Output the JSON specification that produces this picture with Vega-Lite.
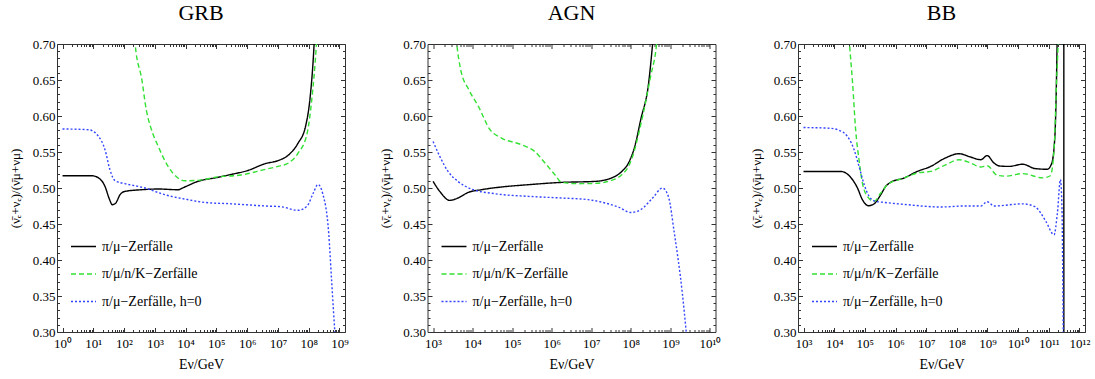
{
  "$schema": "https://vega.github.io/schema/vega-lite/v6.json",
  "background": "white",
  "padding": {"left": 8, "top": 1, "right": 4, "bottom": 0},
  "spacing": 82.5,
  "bounds": "flush",
  "config": {
    "font": "Liberation Serif",
    "view": {"stroke": "#333333", "strokeWidth": 1},
    "title": {"font": "Liberation Serif", "fontSize": 22, "fontWeight": "normal", "color": "black", "anchor": "middle", "offset": 13},
    "axis": {"domain": false, "grid": false, "tickColor": "#333333", "labelFont": "Liberation Serif", "labelFontSize": 13, "labelColor": "black", "titleFont": "Liberation Serif", "titleFontSize": 14, "titleFontWeight": "normal", "titleColor": "black", "labelOverlap": false, "labelFlush": false, "labelBound": false},
    "legend": {"symbolType": "stroke", "symbolSize": 625, "symbolStrokeWidth": 1.4, "labelFont": "Liberation Serif", "labelFontSize": 14, "labelColor": "black", "rowPadding": 6.5, "padding": 0, "labelOffset": 5, "labelLimit": 300}
  },
  "datasets": {
    "grb": [
      {"s": "π/μ−Zerfälle", "E": 1, "r": 0.517},
      {"s": "π/μ−Zerfälle", "E": 8.91, "r": 0.517},
      {"s": "π/μ−Zerfälle", "E": 14.8, "r": 0.514},
      {"s": "π/μ−Zerfälle", "E": 24, "r": 0.5022},
      {"s": "π/μ−Zerfälle", "E": 32.4, "r": 0.486},
      {"s": "π/μ−Zerfälle", "E": 41.7, "r": 0.4768},
      {"s": "π/μ−Zerfälle", "E": 53.7, "r": 0.4792},
      {"s": "π/μ−Zerfälle", "E": 74.1, "r": 0.4907},
      {"s": "π/μ−Zerfälle", "E": 107, "r": 0.4953},
      {"s": "π/μ−Zerfälle", "E": 372, "r": 0.4976},
      {"s": "π/μ−Zerfälle", "E": 1288, "r": 0.4986},
      {"s": "π/μ−Zerfälle", "E": 5623, "r": 0.4976},
      {"s": "π/μ−Zerfälle", "E": 9333, "r": 0.5014},
      {"s": "π/μ−Zerfälle", "E": 25120, "r": 0.5092},
      {"s": "π/μ−Zerfälle", "E": 112200, "r": 0.5148},
      {"s": "π/μ−Zerfälle", "E": 316200, "r": 0.519},
      {"s": "π/μ−Zerfälle", "E": 1000000, "r": 0.524},
      {"s": "π/μ−Zerfälle", "E": 3980000, "r": 0.534},
      {"s": "π/μ−Zerfälle", "E": 10000000, "r": 0.538},
      {"s": "π/μ−Zerfälle", "E": 22400000, "r": 0.546},
      {"s": "π/μ−Zerfälle", "E": 44700000, "r": 0.562},
      {"s": "π/μ−Zerfälle", "E": 79400000, "r": 0.586},
      {"s": "π/μ−Zerfälle", "E": 112000000, "r": 0.627},
      {"s": "π/μ−Zerfälle", "E": 141000000, "r": 0.68},
      {"s": "π/μ−Zerfälle", "E": 158500000, "r": 0.72},
      {"s": "π/μ/n/K−Zerfälle", "E": 200, "r": 0.74},
      {"s": "π/μ/n/K−Zerfälle", "E": 229, "r": 0.7},
      {"s": "π/μ/n/K−Zerfälle", "E": 380, "r": 0.65},
      {"s": "π/μ/n/K−Zerfälle", "E": 525, "r": 0.609},
      {"s": "π/μ/n/K−Zerfälle", "E": 776, "r": 0.581},
      {"s": "π/μ/n/K−Zerfälle", "E": 1288, "r": 0.5578},
      {"s": "π/μ/n/K−Zerfälle", "E": 2692, "r": 0.53},
      {"s": "π/μ/n/K−Zerfälle", "E": 5623, "r": 0.5139},
      {"s": "π/μ/n/K−Zerfälle", "E": 9333, "r": 0.51},
      {"s": "π/μ/n/K−Zerfälle", "E": 25120, "r": 0.5106},
      {"s": "π/μ/n/K−Zerfälle", "E": 112200, "r": 0.5155},
      {"s": "π/μ/n/K−Zerfälle", "E": 631000, "r": 0.518},
      {"s": "π/μ/n/K−Zerfälle", "E": 3980000, "r": 0.526},
      {"s": "π/μ/n/K−Zerfälle", "E": 10000000, "r": 0.53},
      {"s": "π/μ/n/K−Zerfälle", "E": 22400000, "r": 0.535},
      {"s": "π/μ/n/K−Zerfälle", "E": 44700000, "r": 0.548},
      {"s": "π/μ/n/K−Zerfälle", "E": 89100000, "r": 0.576},
      {"s": "π/μ/n/K−Zerfälle", "E": 126000000, "r": 0.623},
      {"s": "π/μ/n/K−Zerfälle", "E": 178000000, "r": 0.7},
      {"s": "π/μ/n/K−Zerfälle", "E": 200000000, "r": 0.74},
      {"s": "π/μ−Zerfälle, h=0", "E": 1, "r": 0.582},
      {"s": "π/μ−Zerfälle, h=0", "E": 6.92, "r": 0.581},
      {"s": "π/μ−Zerfälle, h=0", "E": 14.8, "r": 0.5717},
      {"s": "π/μ−Zerfälle, h=0", "E": 24, "r": 0.5532},
      {"s": "π/μ−Zerfälle, h=0", "E": 34.7, "r": 0.5254},
      {"s": "π/μ−Zerfälle, h=0", "E": 51.3, "r": 0.51},
      {"s": "π/μ−Zerfälle, h=0", "E": 107, "r": 0.506},
      {"s": "π/μ−Zerfälle, h=0", "E": 479, "r": 0.5},
      {"s": "π/μ−Zerfälle, h=0", "E": 2089, "r": 0.4907},
      {"s": "π/μ−Zerfälle, h=0", "E": 9333, "r": 0.4847},
      {"s": "π/μ−Zerfälle, h=0", "E": 41690, "r": 0.48},
      {"s": "π/μ−Zerfälle, h=0", "E": 316200, "r": 0.478},
      {"s": "π/μ−Zerfälle, h=0", "E": 3980000, "r": 0.475},
      {"s": "π/μ−Zerfälle, h=0", "E": 12600000, "r": 0.474},
      {"s": "π/μ−Zerfälle, h=0", "E": 44700000, "r": 0.469},
      {"s": "π/μ−Zerfälle, h=0", "E": 89100000, "r": 0.475},
      {"s": "π/μ−Zerfälle, h=0", "E": 141000000, "r": 0.493},
      {"s": "π/μ−Zerfälle, h=0", "E": 200000000, "r": 0.505},
      {"s": "π/μ−Zerfälle, h=0", "E": 282000000, "r": 0.493},
      {"s": "π/μ−Zerfälle, h=0", "E": 447000000, "r": 0.437},
      {"s": "π/μ−Zerfälle, h=0", "E": 562000000, "r": 0.368},
      {"s": "π/μ−Zerfälle, h=0", "E": 708000000, "r": 0.3},
      {"s": "π/μ−Zerfälle, h=0", "E": 794000000, "r": 0.27}
    ],
    "agn": [
      {"s": "π/μ−Zerfälle", "E": 1000, "r": 0.5092},
      {"s": "π/μ−Zerfälle", "E": 1479, "r": 0.4953},
      {"s": "π/μ−Zerfälle", "E": 2630, "r": 0.4828},
      {"s": "π/μ−Zerfälle", "E": 4266, "r": 0.4861},
      {"s": "π/μ−Zerfälle", "E": 7762, "r": 0.4939},
      {"s": "π/μ−Zerfälle", "E": 16600, "r": 0.4976},
      {"s": "π/μ−Zerfälle", "E": 53700, "r": 0.5014},
      {"s": "π/μ−Zerfälle", "E": 257000, "r": 0.5046},
      {"s": "π/μ−Zerfälle", "E": 1778000, "r": 0.5078},
      {"s": "π/μ−Zerfälle", "E": 12300000, "r": 0.5092},
      {"s": "π/μ−Zerfälle", "E": 32360000, "r": 0.5139},
      {"s": "π/μ−Zerfälle", "E": 58880000, "r": 0.523},
      {"s": "π/μ−Zerfälle", "E": 87100000, "r": 0.5347},
      {"s": "π/μ−Zerfälle", "E": 126000000, "r": 0.558},
      {"s": "π/μ−Zerfälle", "E": 178000000, "r": 0.595},
      {"s": "π/μ−Zerfälle", "E": 282000000, "r": 0.646},
      {"s": "π/μ−Zerfälle", "E": 355000000, "r": 0.7},
      {"s": "π/μ−Zerfälle", "E": 398000000, "r": 0.73},
      {"s": "π/μ/n/K−Zerfälle", "E": 3548, "r": 0.73},
      {"s": "π/μ/n/K−Zerfälle", "E": 3981, "r": 0.7},
      {"s": "π/μ/n/K−Zerfälle", "E": 5012, "r": 0.664},
      {"s": "π/μ/n/K−Zerfälle", "E": 7943, "r": 0.637},
      {"s": "π/μ/n/K−Zerfälle", "E": 14130, "r": 0.613},
      {"s": "π/μ/n/K−Zerfälle", "E": 27540, "r": 0.581},
      {"s": "π/μ/n/K−Zerfälle", "E": 53700, "r": 0.5694},
      {"s": "π/μ/n/K−Zerfälle", "E": 173800, "r": 0.56},
      {"s": "π/μ/n/K−Zerfälle", "E": 371500, "r": 0.5508},
      {"s": "π/μ/n/K−Zerfälle", "E": 676100, "r": 0.5347},
      {"s": "π/μ/n/K−Zerfälle", "E": 1202000, "r": 0.5185},
      {"s": "π/μ/n/K−Zerfälle", "E": 1778000, "r": 0.5078},
      {"s": "π/μ/n/K−Zerfälle", "E": 4677000, "r": 0.506},
      {"s": "π/μ/n/K−Zerfälle", "E": 12300000, "r": 0.5064},
      {"s": "π/μ/n/K−Zerfälle", "E": 26920000, "r": 0.5092},
      {"s": "π/μ/n/K−Zerfälle", "E": 58880000, "r": 0.5185},
      {"s": "π/μ/n/K−Zerfälle", "E": 87100000, "r": 0.53},
      {"s": "π/μ/n/K−Zerfälle", "E": 104700000, "r": 0.54},
      {"s": "π/μ/n/K−Zerfälle", "E": 178000000, "r": 0.588},
      {"s": "π/μ/n/K−Zerfälle", "E": 316000000, "r": 0.655},
      {"s": "π/μ/n/K−Zerfälle", "E": 447000000, "r": 0.7},
      {"s": "π/μ/n/K−Zerfälle", "E": 501000000, "r": 0.73},
      {"s": "π/μ−Zerfälle, h=0", "E": 1000, "r": 0.5647},
      {"s": "π/μ−Zerfälle, h=0", "E": 1479, "r": 0.5439},
      {"s": "π/μ−Zerfälle, h=0", "E": 2399, "r": 0.523},
      {"s": "π/μ−Zerfälle, h=0", "E": 4266, "r": 0.5092},
      {"s": "π/μ−Zerfälle, h=0", "E": 9333, "r": 0.4986},
      {"s": "π/μ−Zerfälle, h=0", "E": 36310, "r": 0.4921},
      {"s": "π/μ−Zerfälle, h=0", "E": 257000, "r": 0.4884},
      {"s": "π/μ−Zerfälle, h=0", "E": 1778000, "r": 0.4861},
      {"s": "π/μ−Zerfälle, h=0", "E": 8318000, "r": 0.4838},
      {"s": "π/μ−Zerfälle, h=0", "E": 22390000, "r": 0.4792},
      {"s": "π/μ−Zerfälle, h=0", "E": 47860000, "r": 0.4736},
      {"s": "π/μ−Zerfälle, h=0", "E": 100000000, "r": 0.466},
      {"s": "π/μ−Zerfälle, h=0", "E": 178000000, "r": 0.47},
      {"s": "π/μ−Zerfälle, h=0", "E": 355000000, "r": 0.486},
      {"s": "π/μ−Zerfälle, h=0", "E": 631000000, "r": 0.5},
      {"s": "π/μ−Zerfälle, h=0", "E": 891000000, "r": 0.488},
      {"s": "π/μ−Zerfälle, h=0", "E": 1260000000, "r": 0.437},
      {"s": "π/μ−Zerfälle, h=0", "E": 2000000000, "r": 0.354},
      {"s": "π/μ−Zerfälle, h=0", "E": 2510000000, "r": 0.3},
      {"s": "π/μ−Zerfälle, h=0", "E": 2820000000, "r": 0.27}
    ],
    "bb": [
      {"s": "π/μ−Zerfälle", "E": 1000, "r": 0.523},
      {"s": "π/μ−Zerfälle", "E": 16200, "r": 0.523},
      {"s": "π/μ−Zerfälle", "E": 39800, "r": 0.5115},
      {"s": "π/μ−Zerfälle", "E": 57500, "r": 0.5},
      {"s": "π/μ−Zerfälle", "E": 83200, "r": 0.4838},
      {"s": "π/μ−Zerfälle", "E": 131800, "r": 0.4754},
      {"s": "π/μ−Zerfälle", "E": 199500, "r": 0.478},
      {"s": "π/μ−Zerfälle", "E": 331100, "r": 0.4907},
      {"s": "π/μ−Zerfälle", "E": 478600, "r": 0.5022},
      {"s": "π/μ−Zerfälle", "E": 691800, "r": 0.5078},
      {"s": "π/μ−Zerfälle", "E": 1905000, "r": 0.5139},
      {"s": "π/μ−Zerfälle", "E": 5129000, "r": 0.523},
      {"s": "π/μ−Zerfälle", "E": 14130000, "r": 0.53},
      {"s": "π/μ−Zerfälle", "E": 38020000, "r": 0.5407},
      {"s": "π/μ−Zerfälle", "E": 117500000, "r": 0.5476},
      {"s": "π/μ−Zerfälle", "E": 281800000, "r": 0.543},
      {"s": "π/μ−Zerfälle", "E": 602600000, "r": 0.5393},
      {"s": "π/μ−Zerfälle", "E": 977200000, "r": 0.545},
      {"s": "π/μ−Zerfälle", "E": 1622000000, "r": 0.5347},
      {"s": "π/μ−Zerfälle", "E": 2500000000, "r": 0.5305},
      {"s": "π/μ−Zerfälle", "E": 5010000000, "r": 0.53},
      {"s": "π/μ−Zerfälle", "E": 14100000000, "r": 0.533},
      {"s": "π/μ−Zerfälle", "E": 35500000000, "r": 0.527},
      {"s": "π/μ−Zerfälle", "E": 89100000000, "r": 0.526},
      {"s": "π/μ−Zerfälle", "E": 126000000000, "r": 0.535},
      {"s": "π/μ−Zerfälle", "E": 158500000000, "r": 0.574},
      {"s": "π/μ−Zerfälle", "E": 186000000000, "r": 0.7},
      {"s": "π/μ−Zerfälle", "E": 200000000000, "r": 0.8},
      {"s": "π/μ−Zerfälle", "E": 308500000000, "r": 0.8},
      {"s": "π/μ−Zerfälle", "E": 309000000000, "r": 0.2},
      {"s": "π/μ/n/K−Zerfälle", "E": 28180, "r": 0.73},
      {"s": "π/μ/n/K−Zerfälle", "E": 31620, "r": 0.7},
      {"s": "π/μ/n/K−Zerfälle", "E": 39810, "r": 0.646},
      {"s": "π/μ/n/K−Zerfälle", "E": 50120, "r": 0.581},
      {"s": "π/μ/n/K−Zerfälle", "E": 64600, "r": 0.539},
      {"s": "π/μ/n/K−Zerfälle", "E": 83200, "r": 0.507},
      {"s": "π/μ/n/K−Zerfälle", "E": 120200, "r": 0.4884},
      {"s": "π/μ/n/K−Zerfälle", "E": 199500, "r": 0.4814},
      {"s": "π/μ/n/K−Zerfälle", "E": 331100, "r": 0.493},
      {"s": "π/μ/n/K−Zerfälle", "E": 549500, "r": 0.5045},
      {"s": "π/μ/n/K−Zerfälle", "E": 1905000, "r": 0.514},
      {"s": "π/μ/n/K−Zerfälle", "E": 5129000, "r": 0.5208},
      {"s": "π/μ/n/K−Zerfälle", "E": 14130000, "r": 0.523},
      {"s": "π/μ/n/K−Zerfälle", "E": 38020000, "r": 0.531},
      {"s": "π/μ/n/K−Zerfälle", "E": 117500000, "r": 0.5393},
      {"s": "π/μ/n/K−Zerfälle", "E": 281800000, "r": 0.5347},
      {"s": "π/μ/n/K−Zerfälle", "E": 602600000, "r": 0.5292},
      {"s": "π/μ/n/K−Zerfälle", "E": 977200000, "r": 0.531},
      {"s": "π/μ/n/K−Zerfälle", "E": 2089000000, "r": 0.5175},
      {"s": "π/μ/n/K−Zerfälle", "E": 4000000000, "r": 0.5165},
      {"s": "π/μ/n/K−Zerfälle", "E": 14100000000, "r": 0.52},
      {"s": "π/μ/n/K−Zerfälle", "E": 63100000000, "r": 0.514},
      {"s": "π/μ/n/K−Zerfälle", "E": 112000000000, "r": 0.517},
      {"s": "π/μ/n/K−Zerfälle", "E": 148000000000, "r": 0.553},
      {"s": "π/μ/n/K−Zerfälle", "E": 178000000000, "r": 0.646},
      {"s": "π/μ/n/K−Zerfälle", "E": 200000000000, "r": 0.7},
      {"s": "π/μ/n/K−Zerfälle", "E": 214000000000, "r": 0.75},
      {"s": "π/μ−Zerfälle, h=0", "E": 1000, "r": 0.584},
      {"s": "π/μ−Zerfälle, h=0", "E": 7079, "r": 0.583},
      {"s": "π/μ−Zerfälle, h=0", "E": 12900, "r": 0.581},
      {"s": "π/μ−Zerfälle, h=0", "E": 26900, "r": 0.5717},
      {"s": "π/μ−Zerfälle, h=0", "E": 44670, "r": 0.5532},
      {"s": "π/μ−Zerfälle, h=0", "E": 64600, "r": 0.53},
      {"s": "π/μ−Zerfälle, h=0", "E": 95500, "r": 0.5046},
      {"s": "π/μ−Zerfälle, h=0", "E": 138000, "r": 0.4884},
      {"s": "π/μ−Zerfälle, h=0", "E": 229000, "r": 0.4814},
      {"s": "π/μ−Zerfälle, h=0", "E": 426600, "r": 0.48},
      {"s": "π/μ−Zerfälle, h=0", "E": 2455000, "r": 0.4768},
      {"s": "π/μ−Zerfälle, h=0", "E": 29510000, "r": 0.4736},
      {"s": "π/μ−Zerfälle, h=0", "E": 169800000, "r": 0.475},
      {"s": "π/μ−Zerfälle, h=0", "E": 602600000, "r": 0.475},
      {"s": "π/μ−Zerfälle, h=0", "E": 977200000, "r": 0.481},
      {"s": "π/μ−Zerfälle, h=0", "E": 1622000000, "r": 0.475},
      {"s": "π/μ−Zerfälle, h=0", "E": 14100000000, "r": 0.478},
      {"s": "π/μ−Zerfälle, h=0", "E": 35500000000, "r": 0.474},
      {"s": "π/μ−Zerfälle, h=0", "E": 79400000000, "r": 0.454},
      {"s": "π/μ−Zerfälle, h=0", "E": 148000000000, "r": 0.435},
      {"s": "π/μ−Zerfälle, h=0", "E": 190000000000, "r": 0.465},
      {"s": "π/μ−Zerfälle, h=0", "E": 240000000000, "r": 0.512},
      {"s": "π/μ−Zerfälle, h=0", "E": 269000000000, "r": 0.47},
      {"s": "π/μ−Zerfälle, h=0", "E": 295000000000, "r": 0.3},
      {"s": "π/μ−Zerfälle, h=0", "E": 302000000000, "r": 0.25}
    ]
  },
  "resolve": {"legend": {"color": "independent", "strokeDash": "independent"}},
  "hconcat": [
    {
      "width": 288, "height": 288,
      "title": {"text": "GRB"},
      "layer": [
        {
          "mark": {"type": "rule", "color": "#ff0000", "strokeWidth": 1.2},
          "encoding": {
            "x": {"datum": 1, "type": "quantitative", "scale": {"type": "log", "domain": [0.661, 1513000000], "nice": false},
              "axis": {"orient": "bottom", "title": "Eν/GeV", "titlePadding": 5,
                "values": [1,2,3,4,5,6,7,8,9,10,20,30,40,50,60,70,80,90,100,200,300,400,500,600,700,800,900,1000,2000,3000,4000,5000,6000,7000,8000,9000,10000,20000,30000,40000,50000,60000,70000,80000,90000,100000,200000,300000,400000,500000,600000,700000,800000,900000,1000000,2000000,3000000,4000000,5000000,6000000,7000000,8000000,9000000,10000000,20000000,30000000,40000000,50000000,60000000,70000000,80000000,90000000,100000000,200000000,300000000,400000000,500000000,600000000,700000000,800000000,900000000,1000000000],
                "labelExpr": "abs(log(datum.value)/LN10 - round(log(datum.value)/LN10)) < 0.001 ? '10' + ['⁰','¹','²','³','⁴','⁵','⁶','⁷','⁸','⁹','¹⁰','¹¹','¹²'][round(log(datum.value)/LN10)] : ''",
                "tickSize": {"condition": {"test": "abs(log(datum.value)/LN10 - round(log(datum.value)/LN10)) < 0.001", "value": -4.5}, "value": -2.5},
                "labelPadding": 10}},
            "x2": {"datum": 1000000000},
            "y": {"datum": 0.5, "type": "quantitative", "scale": {"domain": [0.3, 0.7], "nice": false, "zero": false},
              "axis": {"orient": "left", "title": "(ν̄ₑ+νₑ)/(ν̄μ+νμ)", "titlePadding": 10, "titleFontSize": 13,
                "values": [0.3,0.31,0.32,0.33,0.34,0.35,0.36,0.37,0.38,0.39,0.4,0.41,0.42,0.43,0.44,0.45,0.46,0.47,0.48,0.49,0.5,0.51,0.52,0.53,0.54,0.55,0.56,0.57,0.58,0.59,0.6,0.61,0.62,0.63,0.64,0.65,0.66,0.67,0.68,0.69,0.7],
                "labelExpr": "abs(datum.value*20 - round(datum.value*20)) < 0.001 ? format(datum.value, '.2f') : ''",
                "tickSize": {"condition": {"test": "abs(datum.value*20 - round(datum.value*20)) < 0.001", "value": -4.5}, "value": -2.5},
                "labelPadding": 6.5}}
          }
        },
        {
          "data": {"name": "grb"},
          "mark": {"type": "line", "clip": true, "strokeWidth": 1.4, "interpolate": "monotone"},
          "encoding": {
            "x": {"field": "E", "type": "quantitative", "scale": {"type": "log", "domain": [0.661, 1513000000], "nice": false},
              "axis": {"orient": "top", "title": null, "labels": false,
                "values": [1,2,3,4,5,6,7,8,9,10,20,30,40,50,60,70,80,90,100,200,300,400,500,600,700,800,900,1000,2000,3000,4000,5000,6000,7000,8000,9000,10000,20000,30000,40000,50000,60000,70000,80000,90000,100000,200000,300000,400000,500000,600000,700000,800000,900000,1000000,2000000,3000000,4000000,5000000,6000000,7000000,8000000,9000000,10000000,20000000,30000000,40000000,50000000,60000000,70000000,80000000,90000000,100000000,200000000,300000000,400000000,500000000,600000000,700000000,800000000,900000000,1000000000],
                "tickSize": {"condition": {"test": "abs(log(datum.value)/LN10 - round(log(datum.value)/LN10)) < 0.001", "value": -4.5}, "value": -2.5}}},
            "y": {"field": "r", "type": "quantitative", "scale": {"domain": [0.3, 0.7], "nice": false, "zero": false},
              "axis": {"orient": "right", "title": null, "labels": false,
                "values": [0.3,0.31,0.32,0.33,0.34,0.35,0.36,0.37,0.38,0.39,0.4,0.41,0.42,0.43,0.44,0.45,0.46,0.47,0.48,0.49,0.5,0.51,0.52,0.53,0.54,0.55,0.56,0.57,0.58,0.59,0.6,0.61,0.62,0.63,0.64,0.65,0.66,0.67,0.68,0.69,0.7],
                "tickSize": {"condition": {"test": "abs(datum.value*20 - round(datum.value*20)) < 0.001", "value": -4.5}, "value": -2.5}}},
            "color": {"field": "s", "type": "nominal",
              "scale": {"domain": ["π/μ−Zerfälle", "π/μ/n/K−Zerfälle", "π/μ−Zerfälle, h=0"], "range": ["#000000", "#33e033", "#3344ff"]},
              "legend": {"orient": "none", "legendX": 13, "legendY": 189, "title": null}},
            "strokeDash": {"field": "s", "type": "nominal",
              "scale": {"domain": ["π/μ−Zerfälle", "π/μ/n/K−Zerfälle", "π/μ−Zerfälle, h=0"], "range": [[1, 0], [5, 3], [2, 2]]},
              "legend": {"orient": "none", "legendX": 13, "legendY": 189, "title": null}}
          }
        }
      ],
      "resolve": {"axis": {"x": "independent", "y": "independent"}}
    },
    {
      "width": 288, "height": 288,
      "title": {"text": "AGN"},
      "layer": [
        {
          "mark": {"type": "rule", "color": "#ff0000", "strokeWidth": 1.2},
          "encoding": {
            "x": {"datum": 1000, "type": "quantitative", "scale": {"type": "log", "domain": [724, 13800000000], "nice": false},
              "axis": {"orient": "bottom", "title": "Eν/GeV", "titlePadding": 5,
                "values": [1000,2000,3000,4000,5000,6000,7000,8000,9000,10000,20000,30000,40000,50000,60000,70000,80000,90000,100000,200000,300000,400000,500000,600000,700000,800000,900000,1000000,2000000,3000000,4000000,5000000,6000000,7000000,8000000,9000000,10000000,20000000,30000000,40000000,50000000,60000000,70000000,80000000,90000000,100000000,200000000,300000000,400000000,500000000,600000000,700000000,800000000,900000000,1000000000,2000000000,3000000000,4000000000,5000000000,6000000000,7000000000,8000000000,9000000000,10000000000],
                "labelExpr": "abs(log(datum.value)/LN10 - round(log(datum.value)/LN10)) < 0.001 ? '10' + ['⁰','¹','²','³','⁴','⁵','⁶','⁷','⁸','⁹','¹⁰','¹¹','¹²'][round(log(datum.value)/LN10)] : ''",
                "tickSize": {"condition": {"test": "abs(log(datum.value)/LN10 - round(log(datum.value)/LN10)) < 0.001", "value": -4.5}, "value": -2.5},
                "labelPadding": 10}},
            "x2": {"datum": 10000000000},
            "y": {"datum": 0.5, "type": "quantitative", "scale": {"domain": [0.3, 0.7], "nice": false, "zero": false},
              "axis": {"orient": "left", "title": "(ν̄ₑ+νₑ)/(ν̄μ+νμ)", "titlePadding": 10, "titleFontSize": 13,
                "values": [0.3,0.31,0.32,0.33,0.34,0.35,0.36,0.37,0.38,0.39,0.4,0.41,0.42,0.43,0.44,0.45,0.46,0.47,0.48,0.49,0.5,0.51,0.52,0.53,0.54,0.55,0.56,0.57,0.58,0.59,0.6,0.61,0.62,0.63,0.64,0.65,0.66,0.67,0.68,0.69,0.7],
                "labelExpr": "abs(datum.value*20 - round(datum.value*20)) < 0.001 ? format(datum.value, '.2f') : ''",
                "tickSize": {"condition": {"test": "abs(datum.value*20 - round(datum.value*20)) < 0.001", "value": -4.5}, "value": -2.5},
                "labelPadding": 6.5}}
          }
        },
        {
          "data": {"name": "agn"},
          "mark": {"type": "line", "clip": true, "strokeWidth": 1.4, "interpolate": "monotone"},
          "encoding": {
            "x": {"field": "E", "type": "quantitative", "scale": {"type": "log", "domain": [724, 13800000000], "nice": false},
              "axis": {"orient": "top", "title": null, "labels": false,
                "values": [1000,2000,3000,4000,5000,6000,7000,8000,9000,10000,20000,30000,40000,50000,60000,70000,80000,90000,100000,200000,300000,400000,500000,600000,700000,800000,900000,1000000,2000000,3000000,4000000,5000000,6000000,7000000,8000000,9000000,10000000,20000000,30000000,40000000,50000000,60000000,70000000,80000000,90000000,100000000,200000000,300000000,400000000,500000000,600000000,700000000,800000000,900000000,1000000000,2000000000,3000000000,4000000000,5000000000,6000000000,7000000000,8000000000,9000000000,10000000000],
                "tickSize": {"condition": {"test": "abs(log(datum.value)/LN10 - round(log(datum.value)/LN10)) < 0.001", "value": -4.5}, "value": -2.5}}},
            "y": {"field": "r", "type": "quantitative", "scale": {"domain": [0.3, 0.7], "nice": false, "zero": false},
              "axis": {"orient": "right", "title": null, "labels": false,
                "values": [0.3,0.31,0.32,0.33,0.34,0.35,0.36,0.37,0.38,0.39,0.4,0.41,0.42,0.43,0.44,0.45,0.46,0.47,0.48,0.49,0.5,0.51,0.52,0.53,0.54,0.55,0.56,0.57,0.58,0.59,0.6,0.61,0.62,0.63,0.64,0.65,0.66,0.67,0.68,0.69,0.7],
                "tickSize": {"condition": {"test": "abs(datum.value*20 - round(datum.value*20)) < 0.001", "value": -4.5}, "value": -2.5}}},
            "color": {"field": "s", "type": "nominal",
              "scale": {"domain": ["π/μ−Zerfälle", "π/μ/n/K−Zerfälle", "π/μ−Zerfälle, h=0"], "range": ["#000000", "#33e033", "#3344ff"]},
              "legend": {"orient": "none", "legendX": 13, "legendY": 189, "title": null}},
            "strokeDash": {"field": "s", "type": "nominal",
              "scale": {"domain": ["π/μ−Zerfälle", "π/μ/n/K−Zerfälle", "π/μ−Zerfälle, h=0"], "range": [[1, 0], [5, 3], [2, 2]]},
              "legend": {"orient": "none", "legendX": 13, "legendY": 189, "title": null}}
          }
        }
      ],
      "resolve": {"axis": {"x": "independent", "y": "independent"}}
    },
    {
      "width": 287, "height": 288,
      "title": {"text": "BB"},
      "layer": [
        {
          "mark": {"type": "rule", "color": "#ff0000", "strokeWidth": 1.2},
          "encoding": {
            "x": {"datum": 1000, "type": "quantitative", "scale": {"type": "log", "domain": [661, 1513000000000], "nice": false},
              "axis": {"orient": "bottom", "title": "Eν/GeV", "titlePadding": 5,
                "values": [1000,2000,3000,4000,5000,6000,7000,8000,9000,10000,20000,30000,40000,50000,60000,70000,80000,90000,100000,200000,300000,400000,500000,600000,700000,800000,900000,1000000,2000000,3000000,4000000,5000000,6000000,7000000,8000000,9000000,10000000,20000000,30000000,40000000,50000000,60000000,70000000,80000000,90000000,100000000,200000000,300000000,400000000,500000000,600000000,700000000,800000000,900000000,1000000000,2000000000,3000000000,4000000000,5000000000,6000000000,7000000000,8000000000,9000000000,10000000000,20000000000,30000000000,40000000000,50000000000,60000000000,70000000000,80000000000,90000000000,100000000000,200000000000,300000000000,400000000000,500000000000,600000000000,700000000000,800000000000,900000000000,1000000000000],
                "labelExpr": "abs(log(datum.value)/LN10 - round(log(datum.value)/LN10)) < 0.001 ? '10' + ['⁰','¹','²','³','⁴','⁵','⁶','⁷','⁸','⁹','¹⁰','¹¹','¹²'][round(log(datum.value)/LN10)] : ''",
                "tickSize": {"condition": {"test": "abs(log(datum.value)/LN10 - round(log(datum.value)/LN10)) < 0.001", "value": -4.5}, "value": -2.5},
                "labelPadding": 10}},
            "x2": {"datum": 1000000000000},
            "y": {"datum": 0.5, "type": "quantitative", "scale": {"domain": [0.3, 0.7], "nice": false, "zero": false},
              "axis": {"orient": "left", "title": "(ν̄ₑ+νₑ)/(ν̄μ+νμ)", "titlePadding": 10, "titleFontSize": 13,
                "values": [0.3,0.31,0.32,0.33,0.34,0.35,0.36,0.37,0.38,0.39,0.4,0.41,0.42,0.43,0.44,0.45,0.46,0.47,0.48,0.49,0.5,0.51,0.52,0.53,0.54,0.55,0.56,0.57,0.58,0.59,0.6,0.61,0.62,0.63,0.64,0.65,0.66,0.67,0.68,0.69,0.7],
                "labelExpr": "abs(datum.value*20 - round(datum.value*20)) < 0.001 ? format(datum.value, '.2f') : ''",
                "tickSize": {"condition": {"test": "abs(datum.value*20 - round(datum.value*20)) < 0.001", "value": -4.5}, "value": -2.5},
                "labelPadding": 6.5}}
          }
        },
        {
          "data": {"name": "bb"},
          "mark": {"type": "line", "clip": true, "strokeWidth": 1.4, "interpolate": "monotone"},
          "encoding": {
            "x": {"field": "E", "type": "quantitative", "scale": {"type": "log", "domain": [661, 1513000000000], "nice": false},
              "axis": {"orient": "top", "title": null, "labels": false,
                "values": [1000,2000,3000,4000,5000,6000,7000,8000,9000,10000,20000,30000,40000,50000,60000,70000,80000,90000,100000,200000,300000,400000,500000,600000,700000,800000,900000,1000000,2000000,3000000,4000000,5000000,6000000,7000000,8000000,9000000,10000000,20000000,30000000,40000000,50000000,60000000,70000000,80000000,90000000,100000000,200000000,300000000,400000000,500000000,600000000,700000000,800000000,900000000,1000000000,2000000000,3000000000,4000000000,5000000000,6000000000,7000000000,8000000000,9000000000,10000000000,20000000000,30000000000,40000000000,50000000000,60000000000,70000000000,80000000000,90000000000,100000000000,200000000000,300000000000,400000000000,500000000000,600000000000,700000000000,800000000000,900000000000,1000000000000],
                "tickSize": {"condition": {"test": "abs(log(datum.value)/LN10 - round(log(datum.value)/LN10)) < 0.001", "value": -4.5}, "value": -2.5}}},
            "y": {"field": "r", "type": "quantitative", "scale": {"domain": [0.3, 0.7], "nice": false, "zero": false},
              "axis": {"orient": "right", "title": null, "labels": false,
                "values": [0.3,0.31,0.32,0.33,0.34,0.35,0.36,0.37,0.38,0.39,0.4,0.41,0.42,0.43,0.44,0.45,0.46,0.47,0.48,0.49,0.5,0.51,0.52,0.53,0.54,0.55,0.56,0.57,0.58,0.59,0.6,0.61,0.62,0.63,0.64,0.65,0.66,0.67,0.68,0.69,0.7],
                "tickSize": {"condition": {"test": "abs(datum.value*20 - round(datum.value*20)) < 0.001", "value": -4.5}, "value": -2.5}}},
            "color": {"field": "s", "type": "nominal",
              "scale": {"domain": ["π/μ−Zerfälle", "π/μ/n/K−Zerfälle", "π/μ−Zerfälle, h=0"], "range": ["#000000", "#33e033", "#3344ff"]},
              "legend": {"orient": "none", "legendX": 13, "legendY": 189, "title": null}},
            "strokeDash": {"field": "s", "type": "nominal",
              "scale": {"domain": ["π/μ−Zerfälle", "π/μ/n/K−Zerfälle", "π/μ−Zerfälle, h=0"], "range": [[1, 0], [5, 3], [2, 2]]},
              "legend": {"orient": "none", "legendX": 13, "legendY": 189, "title": null}}
          }
        }
      ],
      "resolve": {"axis": {"x": "independent", "y": "independent"}}
    }
  ]
}
